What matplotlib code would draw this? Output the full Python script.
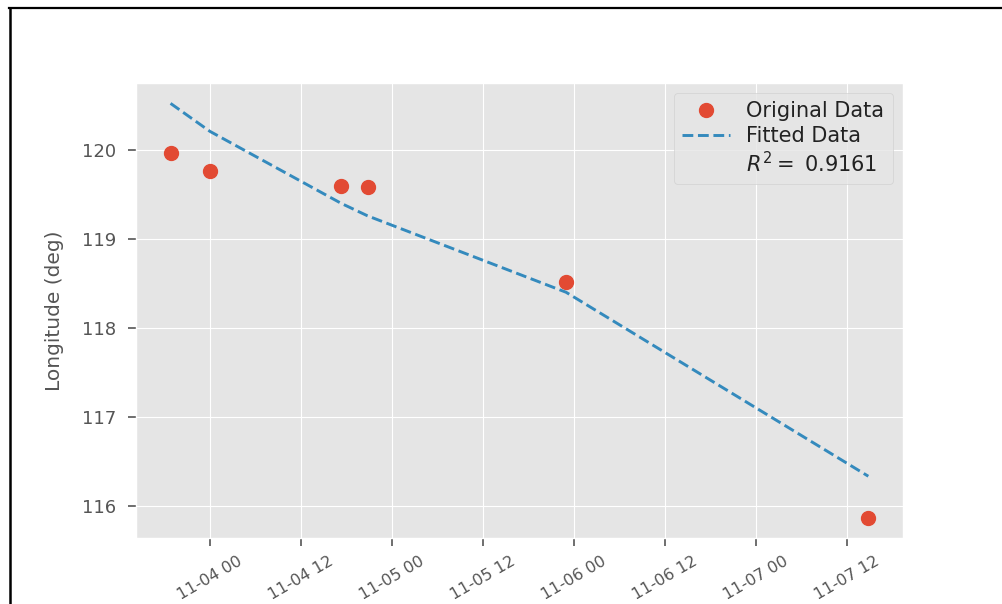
import matplotlib
matplotlib.use("Agg")
import matplotlib.pyplot as plt
import matplotlib.dates as mdates
import numpy as np
import pandas as pd
from matplotlib.lines import Line2D

plt.style.use("ggplot")

# --- Track data ---
obs_times = pd.to_datetime([
    "2022-11-03 18:48",
    "2022-11-04 00:00",
    "2022-11-04 17:19",
    "2022-11-04 20:47",
    "2022-11-05 22:58",
    "2022-11-07 14:50",
])
lon_obs = [119.97, 119.76, 119.595, 119.58, 118.515, 115.865]
lon_fit = [120.525, 120.21, 119.40, 119.26, 118.40, 116.33]
r_squared = 0.9161

fig = plt.figure(figsize=(10.02, 6.04), dpi=100)
ax = fig.add_axes([0.1354, 0.1088, 0.766, 0.7543])

ax.plot(obs_times, lon_obs, "o", markersize=10, label="Original Data")
ax.plot(obs_times, lon_fit, "--", linewidth=2.1, label="Fitted Data")
ax.plot([], [], " ", label=f"$R^2 =$ {r_squared:.4f}")

ax.xaxis.set_major_locator(mdates.HourLocator(byhour=[0, 12]))
ax.xaxis.set_major_formatter(mdates.DateFormatter("%m-%d %H"))
ax.set_yticks([116, 117, 118, 119, 120])
ax.tick_params(axis="both", labelsize=13, length=6, width=1.2)
ax.tick_params(axis="x", labelsize=11.5, pad=5)
ax.tick_params(axis="y", pad=8)
plt.setp(ax.get_xticklabels(), rotation=30, ha="center")

ax.set_ylabel("Longitude (deg)", fontsize=14.5)
ax.yaxis.set_label_coords(-0.0935, 0.5)
leg = ax.legend(loc="upper right", fontsize=15, labelspacing=0.22,
                handlelength=2.3, handletextpad=0.8, borderpad=0.4)
for txt in leg.get_texts():
    txt.set_color("#222222")

# frame around the figure (left and top edges)
fig.add_artist(Line2D([9.5 / 1002, 9.5 / 1002], [0, 1 - 7.7 / 604],
                      transform=fig.transFigure, color="black", linewidth=1.8))
fig.add_artist(Line2D([8.6 / 1002, 1], [1 - 7.7 / 604, 1 - 7.7 / 604],
                      transform=fig.transFigure, color="black", linewidth=1.6))

fig.savefig("out.png", dpi=100)
